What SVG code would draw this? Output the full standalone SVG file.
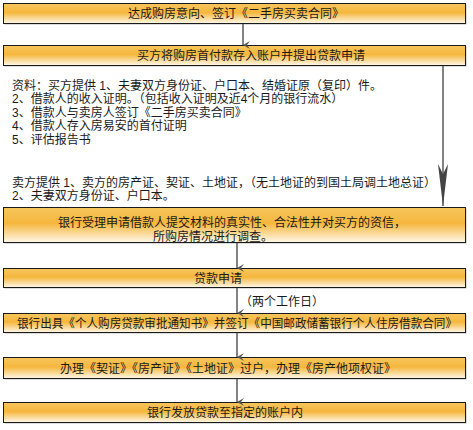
<svg xmlns="http://www.w3.org/2000/svg" width="473" height="430" viewBox="0 0 473 430">
<defs>
<linearGradient id="g" x1="0" y1="0" x2="0" y2="1">
<stop offset="0" stop-color="#f7c65e"/>
<stop offset="0.45" stop-color="#f5b73d"/>
<stop offset="1" stop-color="#fff8ea"/>
</linearGradient>
<marker id="ah" markerWidth="8" markerHeight="8" refX="4" refY="7" orient="auto-start-reverse" markerUnits="userSpaceOnUse" viewBox="0 0 8 8">
<path d="M0,0 L4,3 L8,0 L4,7 Z" fill="#555"/>
</marker>
<marker id="ahL" markerWidth="12" markerHeight="44" refX="6" refY="42" markerUnits="userSpaceOnUse" viewBox="0 0 12 44">
<path d="M1,0 L6,10 L11,0 L6,42 Z" fill="#444"/>
</marker>
</defs>
<style>
.box{fill:url(#g);stroke:#1a1a1a;stroke-width:1}
.sh{fill:#bbb}
.t{font-family:"Noto Sans CJK SC","Liberation Sans",sans-serif;font-size:12px;fill:#1a1a1a}
.s{font-family:"Liberation Sans","Noto Sans CJK SC",sans-serif}
.c{stroke:#5a5a5a;stroke-width:1.5;fill:none}
</style>
<rect width="473" height="430" fill="#fff"/>
<g id="n1"><rect class="sh" x="4.5" y="4.5" width="462" height="20"/><rect class="box" x="3.5" y="3.5" width="462" height="20"/><text class="t" x="236" y="17.5" text-anchor="middle">达成购房意向、签订《二手房买卖合同》</text></g>
<g id="n2"><rect class="sh" x="4.5" y="46.5" width="462" height="20"/><rect class="box" x="3.5" y="45.5" width="462" height="20"/><text class="t" x="251" y="60" text-anchor="middle">买方将购房首付款存入账户并提出贷款申请</text></g>
<g id="buyer">
<text class="t s" x="12" y="89.5">资料：买方提供 1、夫妻双方身份证、户口本、结婚证原（复印）件。</text>
<text class="t s" x="12" y="103">2、借款人的收入证明。（包括收入证明及近4个月的银行流水）</text>
<text class="t s" x="12" y="116.5">3、借款人与卖房人签订《二手房买卖合同》</text>
<text class="t s" x="12" y="130">4、借款人存入房易安的首付证明</text>
<text class="t s" x="12" y="143.5">5、评估报告书</text>
</g>
<g id="seller">
<text class="t s" x="12" y="186.5">卖方提供 1、卖方的房产证、契证、土地证，（无土地证的到国土局调土地总证）</text>
<text class="t s" x="12" y="200">2、夫妻双方身份证、户口本。</text>
</g>
<g id="n3"><rect class="sh" x="4.5" y="208.5" width="462" height="35"/><rect class="box" x="3.5" y="207.5" width="462" height="35"/><text class="t s" x="232" y="226.5" text-anchor="middle">银行受理申请借款人提交材料的真实性、合法性并对买方的资信，</text><text class="t s" x="213" y="240.5" text-anchor="middle">所购房情况进行调查。</text></g>
<g id="n4"><rect class="sh" x="4.5" y="269.5" width="462" height="19"/><rect class="box" x="3.5" y="268.5" width="462" height="19"/><text class="t" x="218" y="282.5" text-anchor="middle">贷款申请</text></g>
<g id="n5"><rect class="sh" x="4.5" y="314.5" width="462" height="19"/><rect class="box" x="3.5" y="313.5" width="462" height="19"/><text class="t" x="237" y="327.5" text-anchor="middle" textLength="440" lengthAdjust="spacingAndGlyphs">银行出具《个人购房贷款审批通知书》并签订《中国邮政储蓄银行个人住房借款合同》</text></g>
<g id="n6"><rect class="sh" x="4.5" y="358.5" width="462" height="21"/><rect class="box" x="3.5" y="357.5" width="462" height="21"/><text class="t" x="228" y="372.5" text-anchor="middle">办理《契证》《房产证》《土地证》过户，办理《房产他项权证》</text></g>
<g id="n7"><rect class="sh" x="4.5" y="403.5" width="462" height="20"/><rect class="box" x="3.5" y="402.5" width="462" height="20"/><text class="t" x="225" y="417" text-anchor="middle">银行发放贷款至指定的账户内</text></g>
<g id="connectors">
<line class="c" x1="243" y1="24" x2="243" y2="45" marker-end="url(#ah)"/>
<line class="c" x1="443" y1="66" x2="443" y2="206" marker-end="url(#ahL)"/>
<line class="c" x1="237" y1="243" x2="237" y2="268" marker-end="url(#ah)"/>
<line class="c" x1="237" y1="288" x2="237" y2="313" marker-end="url(#ah)"/>
<line class="c" x1="237" y1="333" x2="237" y2="357" marker-end="url(#ah)"/>
<line class="c" x1="237" y1="379" x2="237" y2="402" marker-end="url(#ah)"/>
<text class="t" x="240" y="306">（两个工作日）</text>
</g>
</svg>
